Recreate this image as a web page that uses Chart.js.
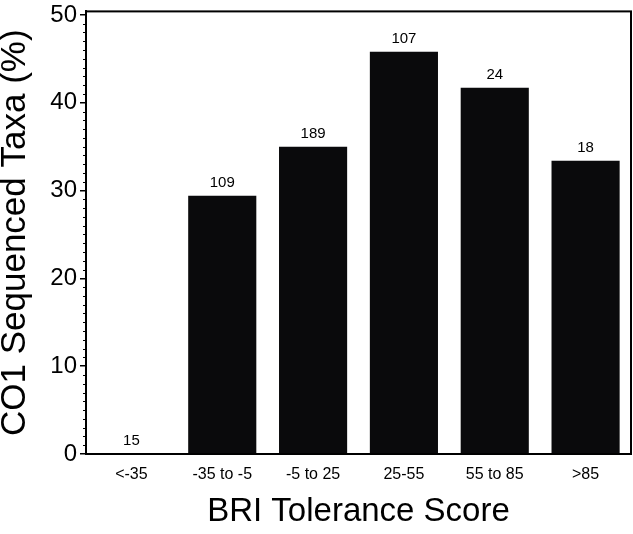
<!DOCTYPE html>
<html lang="en">
<head>
<meta charset="UTF-8">
<title>CO1 Sequenced Taxa by BRI Tolerance Score</title>
<script src="https://cdn.jsdelivr.net/npm/chart.js@4.4.1/dist/chart.umd.min.js"></script>
</head>
<body style="margin:0; background:#ffffff;">
<div style="width:633px; height:534px;">
  <canvas id="briChart"></canvas>
</div>
<script>
// tolerance score bins
const categories = ['<-35', '-35 to -5', '-5 to 25', '25-55', '55 to 85', '>85'];
// % of taxa with a CO1 sequence
const percentSequenced = [0, 29.4, 35.0, 45.8, 41.7, 33.4];
// number of taxa in each bin, written above the bars
const taxaCounts = [15, 109, 189, 107, 24, 18];
// labelled y ticks
const yTickLabels = [0, 10, 20, 30, 40, 50];

const FONT = 'Arial, "Liberation Sans", sans-serif';

// frame around the plot, small minor ticks, counts above bars
const decorations = {
  id: 'decorations',
  afterDatasetsDraw(chart) {
    const { ctx, chartArea, scales } = chart;
    ctx.save();
    ctx.strokeStyle = '#000';
    ctx.lineWidth = 2;
    ctx.strokeRect(chartArea.left, chartArea.top,
      chartArea.right - chartArea.left, chartArea.bottom - chartArea.top);

    ctx.lineWidth = 1;
    for (let v = 1; v < 50; v++) {
      if (v % 10 === 0) continue;
      const y = Math.round(scales.y.getPixelForValue(v)) + 0.5;
      ctx.beginPath();
      ctx.moveTo(chartArea.left - 3, y);
      ctx.lineTo(chartArea.left, y);
      ctx.stroke();
    }

    ctx.font = '15px ' + FONT;
    ctx.fillStyle = '#000';
    ctx.textAlign = 'center';
    ctx.textBaseline = 'alphabetic';
    chart.getDatasetMeta(0).data.forEach((bar, i) => {
      ctx.fillText(String(taxaCounts[i]), bar.x, bar.y - 9);
    });
    ctx.restore();
  }
};

new Chart(document.getElementById('briChart'), {
  type: 'bar',
  data: {
    labels: categories,
    datasets: [{
      data: percentSequenced,
      backgroundColor: '#0a0a0c',
      borderWidth: 0,
      barPercentage: 0.75,
      categoryPercentage: 1.0
    }]
  },
  options: {
    responsive: true,
    maintainAspectRatio: false,
    animation: false,
    layout: { padding: { top: 9, right: 2, left: 0, bottom: 0 } },
    plugins: {
      legend: { display: false },
      tooltip: { enabled: false }
    },
    scales: {
      x: {
        grid: { display: false, drawTicks: false },
        border: { display: false },
        ticks: {
          color: '#000',
          padding: 11,
          maxRotation: 0,
          font: { family: FONT, size: 16 }
        },
        title: {
          display: true,
          text: 'BRI Tolerance Score',
          color: '#000',
          font: { family: FONT, size: 33, lineHeight: 1 },
          padding: { top: 0, bottom: 6 }
        },
        afterFit(scale) { scale.height = 80; }
      },
      y: {
        min: 0,
        max: 50.4,
        afterBuildTicks(scale) {
          scale.ticks = yTickLabels.map(v => ({ value: v }));
        },
        grid: {
          drawOnChartArea: false,
          drawTicks: true,
          tickLength: 6,
          color: '#000',
          lineWidth: 1.5
        },
        border: { display: true, color: '#000', width: 2 },
        ticks: {
          color: '#000',
          padding: 3,
          font: { family: FONT, size: 24, lineHeight: 0.7 }
        },
        title: {
          display: true,
          text: 'CO1 Sequenced Taxa (%)',
          color: '#000',
          font: { family: FONT, size: 35, lineHeight: 0.9 },
          padding: 0
        },
        afterFit(scale) { scale.width = 86; }
      }
    }
  },
  plugins: [decorations]
});
</script>
</body>
</html>
